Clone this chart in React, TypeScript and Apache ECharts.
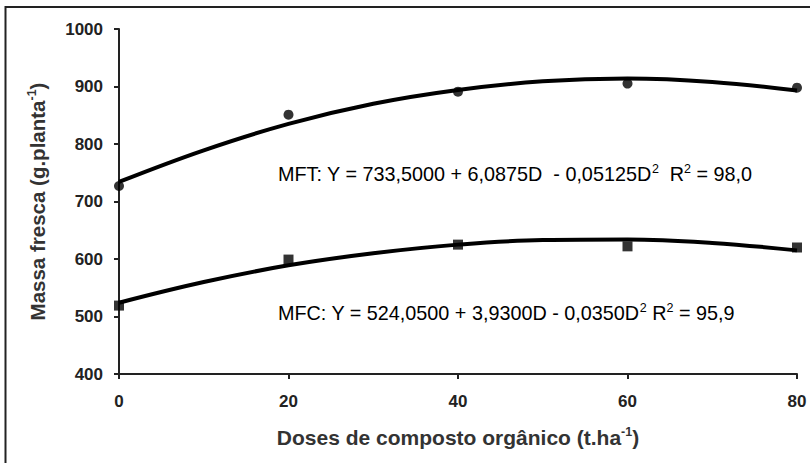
import React, { useEffect, useRef } from "react";
import * as echarts from "echarts";

const doses = [0, 20, 40, 60, 80];
const mftPoints = [727, 851, 891, 905, 898];
const mfcPoints = [519, 599, 625, 622, 620];

const curveDoses = [0, 10, 20, 30, 40, 50, 60, 70, 80];
const mftCurve = [734, 789, 835, 870, 894, 909, 914, 908, 893];
const mfcCurve = [524, 560, 589, 610, 625, 633, 634, 628, 615];

const xTicks = { min: 0, max: 80, interval: 20 };
const yTicks = { min: 400, max: 1000, interval: 100 };

const mftEquation = "{n|MFT: Y = 733,5000 + 6,0875D  - 0,05125D}{s|2}{n|  R}{s|2}{n| = 98,0}";
const mfcEquation = "{n|MFC: Y = 524,0500 + 3,9300D - 0,0350D}{s|2}{n| R}{s|2}{n| = 95,9}";
const yName = "{n|Massa fresca (g.planta}{s|-1}{n|)}";
const xName = "{n|Doses de composto orgânico (t.ha}{s|-1}{n|)}";

const FONT = "'Liberation Sans', Arial, Helvetica, sans-serif";

export default function App() {
  const ref = useRef<HTMLDivElement>(null);

  useEffect(() => {
    if (!ref.current) return;
    const chart = echarts.init(ref.current, null, { renderer: "svg" });

    const eqRich = {
      n: { fontFamily: FONT, fontSize: 19.8, color: "#444" },
      s: { fontFamily: FONT, fontSize: 12.5, color: "#444", padding: [0, 0, 11, 0] },
    };
    const xNameRich = {
      n: { fontFamily: FONT, fontSize: 21, fontWeight: "bold", color: "#333" },
      s: { fontFamily: FONT, fontSize: 12.5, fontWeight: "bold", color: "#333", padding: [0, 0, 11, 0] },
    };
    const yNameRich = {
      n: { fontFamily: FONT, fontSize: 20.5, fontWeight: "bold", color: "#333" },
      s: { fontFamily: FONT, fontSize: 12.5, fontWeight: "bold", color: "#333", padding: [0, 0, 11, 0] },
    };

    const axisCommon = {
      axisLine: { show: true, lineStyle: { color: "#222", width: 2 } },
      axisTick: { show: true, length: 5, lineStyle: { color: "#222", width: 2 } },
      splitLine: { show: false },
    };
    const labelCommon = {
      fontFamily: FONT,
      fontSize: 17,
      fontWeight: "bold",
      color: "#222",
      formatter: (v: number) => String(v),
    };

    chart.setOption({
      animation: false,
      backgroundColor: "#fff",
      grid: { left: 119, right: 13, top: 29, bottom: 89, containLabel: false },
      xAxis: {
        type: "value",
        min: xTicks.min,
        max: xTicks.max,
        interval: xTicks.interval,
        ...axisCommon,
        axisLabel: { ...labelCommon, margin: 19 },
        name: xName,
        nameLocation: "middle",
        nameGap: 51,
        nameTextStyle: { rich: xNameRich },
      },
      yAxis: {
        type: "value",
        min: yTicks.min,
        max: yTicks.max,
        interval: yTicks.interval,
        ...axisCommon,
        axisLabel: { ...labelCommon, margin: 16 },
        name: yName,
        nameLocation: "middle",
        nameGap: 70,
        nameTextStyle: { rich: yNameRich },
      },
      graphic: [
        {
          type: "polyline",
          shape: { points: [[5.5, 463], [5.5, 7], [810, 7]] },
          style: { stroke: "#222", lineWidth: 2 },
          z: 10,
        },
        {
          type: "text",
          x: 278,
          y: 174,
          style: { text: mftEquation, rich: eqRich, verticalAlign: "middle", align: "left" },
          z: 10,
        },
        {
          type: "text",
          x: 278,
          y: 313,
          style: { text: mfcEquation, rich: eqRich, verticalAlign: "middle", align: "left" },
          z: 10,
        },
      ],
      series: [
        {
          type: "line",
          data: curveDoses.map((d, i) => [d, mftCurve[i]]),
          smooth: 0.4,
          showSymbol: false,
          lineStyle: { color: "#000", width: 4 },
          z: 2,
        },
        {
          type: "line",
          data: curveDoses.map((d, i) => [d, mfcCurve[i]]),
          smooth: 0.4,
          showSymbol: false,
          lineStyle: { color: "#000", width: 4 },
          z: 2,
        },
        {
          type: "scatter",
          data: doses.map((d, i) => [d, mftPoints[i]]),
          symbol: "circle",
          symbolSize: 10,
          itemStyle: { color: "#000" },
          z: 3,
        },
        {
          type: "scatter",
          data: doses.map((d, i) => [d, mfcPoints[i]]),
          symbol: "rect",
          symbolSize: 10,
          itemStyle: { color: "#000" },
          z: 3,
        },
      ],
    });

    return () => chart.dispose();
  }, []);

  return (
    <div
      ref={ref}
      style={{ position: "fixed", left: 0, top: 0, width: 810, height: 463, background: "#fff" }}
    />
  );
}
